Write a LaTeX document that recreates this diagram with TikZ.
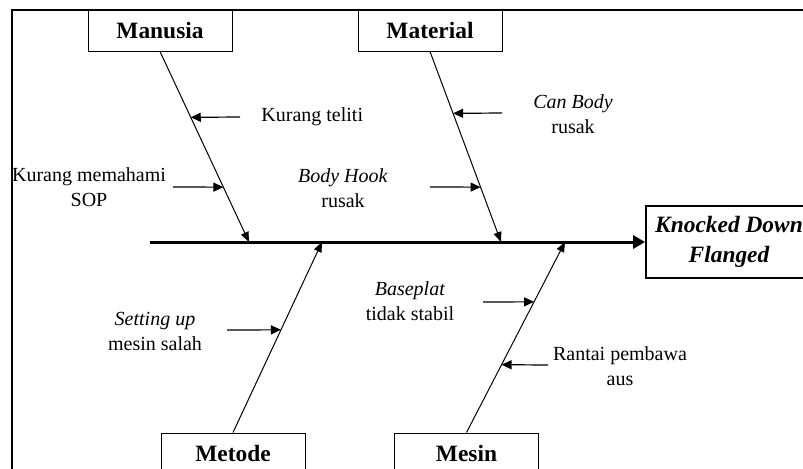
\documentclass[tikz,border=0pt]{standalone}
\usepackage{fontspec}
\setmainfont{Liberation Serif}
\usepackage{tikz}
\usetikzlibrary{arrows.meta,positioning,calc}

\begin{document}
\begin{tikzpicture}[x=0.5pt,y=-0.5pt,font=\fontsize{10}{12.5}\selectfont,
  cat/.style={draw,line width=0.5pt,minimum width=72pt,minimum height=20.5pt,inner sep=0pt,font=\fontsize{11.7}{13}\selectfont\bfseries},
  effect/.style={draw,line width=0.9pt,minimum width=83pt,minimum height=36pt,inner sep=0pt,align=center,font=\fontsize{11.7}{15}\selectfont\bfseries\itshape},
  bone/.style={line width=0.5pt,-{Triangle[length=5pt,width=4pt]}},
  sub/.style={line width=0.6pt,-{Triangle[length=5pt,width=4.5pt]}},
  cause/.style={align=center,inner sep=0pt}]
\clip (0,0) rectangle (803,468);
\draw[line width=1.3pt] (12,10) rectangle (830,500);
% effect and spine
\node[effect] (kd) at (729,242) {Knocked Down\\Flanged};
\coordinate (tail) at (150,242);
\draw[line width=1.5pt,-{Triangle[length=6pt,width=6.5pt]}] (tail) -- (kd.west);
% categories
\node[cat] (manusia) at (160,30.5) {Manusia};
\node[cat] (material) at (430,30.5) {Material};
\node[cat] (metode) at (233,453.5) {Metode};
\node[cat] (mesin) at (466.5,453.5) {Mesin};
\coordinate (m1) at (249,242);
\coordinate (m2) at (501,242);
\coordinate (m3) at (322,242);
\coordinate (m4) at (565,242);
\draw[bone] (manusia.south) -- (m1);
\draw[bone] (material.south) -- (m2);
\draw[bone] (metode.north) -- (m3);
\draw[bone] (mesin.north) -- (m4);
% causes
\node[cause,anchor=west] (c1) at (261,117) {Kurang teliti};
\node[cause] (c2) at (89,187) {Kurang memahami\\SOP};
\node[cause] (c3) at (573,114) {\textit{Can Body}\\rusak};
\node[cause] (c4) at (343,188) {\textit{Body Hook}\\rusak};
\node[cause] (c5) at (155,331) {\textit{Setting up}\\mesin salah};
\node[cause] (c6) at (410,301) {\textit{Baseplat}\\tidak stabil};
\node[cause] (c7) at (620,366) {Rantai pembawa\\aus};
\coordinate (a1) at (240,117);
\coordinate (a2) at (173,187);
\coordinate (a3) at (502,113);
\coordinate (a4) at (430,187);
\coordinate (a5) at (227,330);
\coordinate (a6) at (483,302);
\coordinate (a7) at (548,365);
\draw[sub] (a1) -- ($(manusia.south)!0.3455!(m1)$);
\draw[sub] (a2) -- ($(manusia.south)!0.712!(m1)$);
\draw[sub] (a3) -- ($(material.south)!0.3246!(m2)$);
\draw[sub] (a4) -- ($(material.south)!0.712!(m2)$);
\draw[sub] (a5) -- ($(metode.north)!0.539!(m3)$);
\draw[sub] (a6) -- ($(mesin.north)!0.686!(m4)$);
\draw[sub] (a7) -- ($(mesin.north)!0.356!(m4)$);
\end{tikzpicture}
\end{document}
